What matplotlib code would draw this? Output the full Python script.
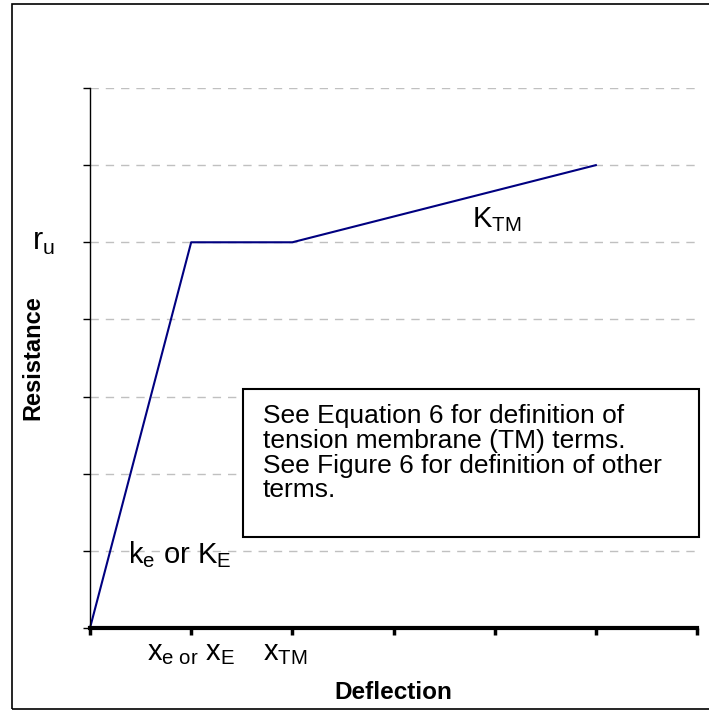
import matplotlib.pyplot as plt
from matplotlib.patches import Rectangle

plt.rcParams['font.family'] = ['Liberation Sans', 'DejaVu Sans']
plt.rcParams['mathtext.fontset'] = 'custom'
plt.rcParams['mathtext.rm'] = 'Liberation Sans'
plt.rcParams['mathtext.it'] = 'Liberation Sans'

# resistance curve: elastic, plastic plateau, tension membrane
deflection = [0, 1, 2, 5]
resistance = [0, 5, 5, 6]
x_ticks = [0, 1, 2, 3, 4, 5, 6]
y_ticks = [0, 1, 2, 3, 4, 5, 6, 7]
note = ("See Equation 6 for definition of\n"
        "tension membrane (TM) terms.\n"
        "See Figure 6 for definition of other\n"
        "terms.")

fig = plt.figure(figsize=(7.09, 7.10), dpi=100)
W, H = 709, 710
ax = fig.add_axes([90 / W, 1 - 628 / H, (697 - 90) / W, (628 - 88) / H])

# outer border of the chart area
fig.patches.append(Rectangle((12 / W, 1 - 709 / H), (720 - 12) / W, (709 - 4) / H,
                             transform=fig.transFigure, fill=False,
                             edgecolor='black', linewidth=1.2))

ax.plot(deflection, resistance, color='#000080', linewidth=1.5, clip_on=False)

ax.set_xlim(0, 6)
ax.set_ylim(0, 7)
ax.set_xticks(x_ticks)
ax.set_yticks(y_ticks)
ax.set_xticklabels([])
ax.set_yticklabels([])
ax.yaxis.grid(True, color='#c0c0c0', linestyle=(0, (6, 5)), linewidth=1)
ax.set_axisbelow(True)

for s in ['top', 'right']:
    ax.spines[s].set_visible(False)
ax.spines['bottom'].set_linewidth(3)
ax.spines['left'].set_linewidth(1)
ax.tick_params(axis='x', direction='out', length=5, width=2.5)
ax.tick_params(axis='y', direction='out', length=5, width=1)

ax.set_xlabel('Deflection', fontsize=17.5, fontweight='bold', labelpad=30)
ax.set_ylabel('Resistance', fontsize=17, fontweight='bold', labelpad=24)

# labels on the axes
ax.text(-0.46, 5, r'$\mathregular{r_u}$', fontsize=22, ha='center', va='center',
        clip_on=False)
ax.text(1.0, -0.33, r'$\mathregular{x_{e\ or}\ x_E}$', fontsize=21,
        ha='center', va='center', clip_on=False)
ax.text(1.93, -0.33, r'$\mathregular{x_{TM}}$', fontsize=21, ha='center',
        va='center', clip_on=False)
ax.text(0.38, 0.95, r'$\mathregular{k_e\ or\ K_E}$', fontsize=21, ha='left',
        va='center')
ax.text(3.78, 5.3, r'$\mathregular{K_{TM}}$', fontsize=21, ha='left',
        va='center')

# note box
fig.patches.append(Rectangle((243 / W, 1 - 537 / H), (699 - 243) / W, (537 - 389) / H,
                             transform=fig.transFigure, facecolor='white',
                             edgecolor='black', linewidth=1.5, zorder=3))
fig.text(263 / W, 1 - 404 / H, note, fontsize=19, ha='left', va='top',
         linespacing=1.04, zorder=4)

fig.savefig('out.png', dpi=100)
